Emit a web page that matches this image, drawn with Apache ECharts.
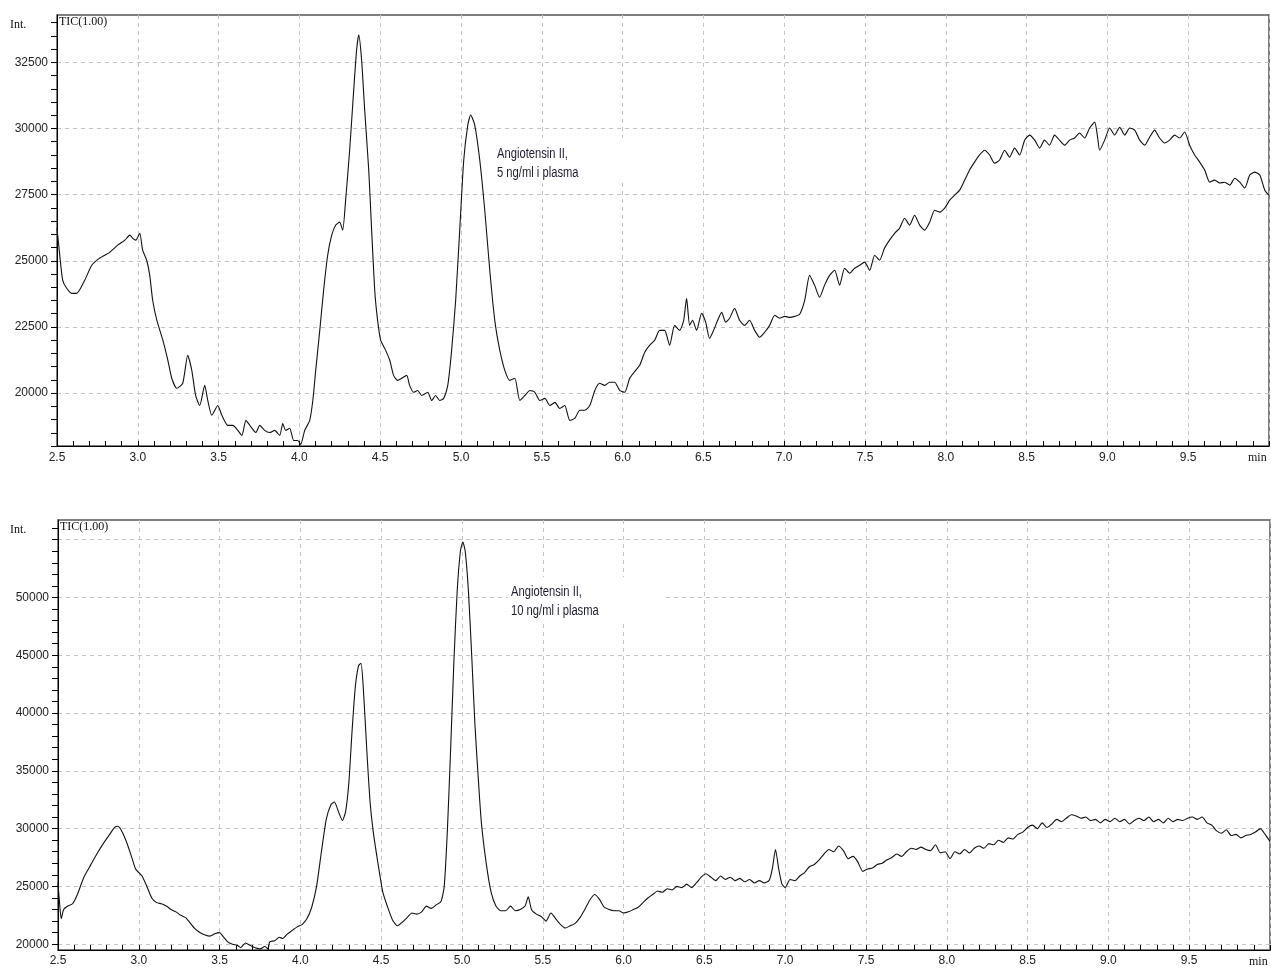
<!DOCTYPE html>
<html>
<head>
<meta charset="utf-8">
<title>TIC chromatograms – Angiotensin II in plasma</title>
<script src="https://cdn.jsdelivr.net/npm/echarts@6/dist/echarts.min.js"></script>
<style>
  html, body { margin: 0; padding: 0; background: #ffffff; }
  #chart { width: 1271px; height: 969px; }
</style>
</head>
<body>
<div id="chart"></div>
<script>
// Retention time axis (min)
const timeMin = 2.5;
const timeMax = 10.0;
const timeStep = 0.5;

// Upper trace: Angiotensin II, 5 ng/ml i plasma  [time (min), intensity]
const trace5ng = [
  [2.500,26230],[2.517,25210],[2.535,24270],[2.560,23960],[2.591,23770],[2.622,23770],[2.672,24270],[2.715,24830],
  [2.764,25100],[2.826,25320],[2.876,25590],[2.920,25780],[2.951,25970],[2.969,25850],[2.988,25780],[3.012,26040],
  [3.030,25400],[3.055,25020],[3.074,24450],[3.092,23510],[3.118,22750],[3.155,22000],[3.186,21240],[3.210,20560],
  [3.241,20180],[3.278,20370],[3.309,21430],[3.334,20860],[3.358,19910],[3.383,19530],[3.414,20290],[3.433,19720],
  [3.458,19160],[3.495,19530],[3.520,19160],[3.557,18780],[3.588,18780],[3.619,18590],[3.644,18400],[3.669,18970],
  [3.693,18780],[3.730,18510],[3.755,18780],[3.785,18590],[3.816,18510],[3.847,18590],[3.878,18400],[3.897,18850],
  [3.915,18590],[3.940,18670],[3.965,18210],[3.990,18210],[4.008,18060],[4.033,18590],[4.064,18970],[4.083,19720],
  [4.101,20860],[4.126,22370],[4.150,23890],[4.175,25210],[4.200,25970],[4.225,26350],[4.249,26460],[4.268,26160],
  [4.286,27290],[4.311,29180],[4.336,31450],[4.354,32970],[4.367,33540],[4.385,32590],[4.404,30700],[4.429,28430],
  [4.447,26160],[4.466,23890],[4.484,22750],[4.503,21990],[4.528,21690],[4.559,21240],[4.583,20670],[4.608,20480],
  [4.633,20560],[4.664,20670],[4.682,20290],[4.707,20030],[4.732,20100],[4.757,19910],[4.794,20030],[4.819,19720],
  [4.843,19910],[4.868,19720],[4.893,19800],[4.918,20290],[4.942,21620],[4.967,23510],[4.992,26160],[5.017,28810],
  [5.042,30130],[5.060,30510],[5.085,30130],[5.116,28810],[5.147,26910],[5.178,24640],[5.209,22750],[5.240,21620],
  [5.271,20860],[5.302,20480],[5.333,20560],[5.364,19720],[5.395,19910],[5.426,20100],[5.457,20030],[5.488,19720],
  [5.519,19800],[5.550,19530],[5.581,19650],[5.611,19420],[5.642,19530],[5.673,18970],[5.704,19040],[5.735,19350],
  [5.766,19350],[5.797,19530],[5.828,20100],[5.858,20370],[5.889,20290],[5.920,20410],[5.951,20410],[5.982,20100],
  [6.013,20030],[6.044,20560],[6.081,20860],[6.106,21050],[6.137,21540],[6.168,21810],[6.199,22000],[6.229,22370],
  [6.260,22370],[6.291,21810],[6.322,22560],[6.353,22370],[6.378,22750],[6.396,23580],[6.415,22560],[6.433,22750],
  [6.458,22370],[6.489,23020],[6.514,22680],[6.538,22070],[6.563,22370],[6.588,22750],[6.613,23050],[6.638,22680],
  [6.662,22830],[6.693,23200],[6.724,22750],[6.755,22560],[6.786,22750],[6.817,22370],[6.848,22110],[6.879,22300],
  [6.910,22560],[6.941,22940],[6.972,22830],[7.003,22900],[7.034,22860],[7.065,22900],[7.096,22980],[7.127,23510],
  [7.157,24450],[7.188,24080],[7.219,23620],[7.250,24080],[7.281,24450],[7.312,24640],[7.343,24080],[7.374,24720],
  [7.405,24530],[7.436,24720],[7.467,24830],[7.498,24950],[7.529,24640],[7.560,25210],[7.590,25020],[7.621,25480],
  [7.652,25780],[7.683,26040],[7.714,26230],[7.745,26610],[7.776,26350],[7.807,26720],[7.838,26350],[7.869,26160],
  [7.900,26460],[7.931,26910],[7.962,26840],[7.993,26990],[8.024,27290],[8.055,27480],[8.086,27670],[8.117,28050],
  [8.147,28430],[8.178,28730],[8.209,29000],[8.240,29180],[8.271,29000],[8.302,28690],[8.333,28810],[8.364,29180],
  [8.395,28920],[8.426,29260],[8.457,29000],[8.488,29560],[8.519,29750],[8.550,29560],[8.581,29260],[8.611,29560],
  [8.642,29370],[8.673,29750],[8.704,29560],[8.735,29370],[8.766,29560],[8.797,29640],[8.828,29830],[8.859,29640],
  [8.890,30020],[8.921,30240],[8.940,29640],[8.952,29180],[8.983,29560],[9.014,30020],[9.045,29750],[9.076,30050],
  [9.107,29750],[9.138,30020],[9.169,29940],[9.200,29560],[9.231,29370],[9.262,29680],[9.292,29940],[9.323,29640],
  [9.354,29450],[9.385,29560],[9.416,29750],[9.447,29640],[9.478,29870],[9.509,29370],[9.540,29000],[9.571,28730],
  [9.602,28430],[9.633,27970],[9.664,28050],[9.695,27940],[9.726,27970],[9.757,27860],[9.788,28120],[9.819,27970],
  [9.850,27750],[9.881,28240],[9.912,28350],[9.943,28240],[9.974,27670],[10.000,27480]
];

// Lower trace: Angiotensin II, 10 ng/ml i plasma  [time (min), intensity]
const trace10ng = [
  [2.500,25300],[2.510,23500],[2.520,22200],[2.535,23000],[2.560,23300],[2.590,23500],[2.620,24300],[2.660,25800],
  [2.700,26800],[2.740,27800],[2.780,28700],[2.820,29500],[2.850,30100],[2.870,30200],[2.890,29900],[2.920,29000],
  [2.950,27800],[2.980,26500],[3.000,26200],[3.020,25900],[3.050,25000],[3.080,24000],[3.110,23600],[3.140,23500],
  [3.170,23300],[3.200,23000],[3.230,22800],[3.260,22500],[3.290,22300],[3.320,21800],[3.350,21300],[3.380,21000],
  [3.410,20800],[3.440,20700],[3.470,20900],[3.500,21000],[3.520,20700],[3.550,20200],[3.580,20000],[3.610,19900],
  [3.630,19700],[3.660,20100],[3.690,19900],[3.720,19700],[3.750,19600],[3.780,19800],[3.800,19600],[3.810,20200],
  [3.840,20300],[3.870,20600],[3.890,20500],[3.920,20900],[3.950,21200],[3.980,21500],[4.010,21700],[4.040,22200],
  [4.070,23200],[4.100,25000],[4.130,28000],[4.160,30800],[4.190,32100],[4.210,32300],[4.240,31300],[4.260,30700],
  [4.280,31500],[4.300,34000],[4.320,38500],[4.340,42300],[4.360,44100],[4.375,44300],[4.390,42000],[4.410,37000],
  [4.430,32500],[4.450,29800],[4.480,27000],[4.510,24500],[4.540,23200],[4.570,22100],[4.600,21600],[4.630,21900],
  [4.660,22300],[4.690,22700],[4.720,22600],[4.750,22800],[4.780,23300],[4.810,23100],[4.840,23400],[4.870,23700],
  [4.890,25000],[4.910,30000],[4.930,37000],[4.950,44500],[4.970,50500],[4.990,54000],[5.005,54800],[5.020,54000],
  [5.040,50500],[5.060,45000],[5.080,39000],[5.100,34500],[5.120,30500],[5.150,27000],[5.180,24500],[5.210,23300],
  [5.240,22900],[5.270,22900],[5.300,23300],[5.330,22900],[5.360,23000],[5.390,23300],[5.410,24100],[5.430,23000],
  [5.460,22600],[5.490,22400],[5.520,22000],[5.550,22700],[5.580,22200],[5.610,21700],[5.640,21400],[5.670,21600],
  [5.700,21800],[5.730,22300],[5.760,23000],[5.790,23800],[5.820,24300],[5.850,23900],[5.880,23200],[5.910,23000],
  [5.940,22900],[5.970,22900],[6.000,22700],[6.030,22800],[6.060,23000],[6.090,23200],[6.120,23600],[6.150,24000],
  [6.180,24300],[6.210,24600],[6.240,24500],[6.270,24800],[6.300,24700],[6.330,25000],[6.360,24900],[6.390,25200],
  [6.420,24900],[6.450,25300],[6.480,25800],[6.510,26100],[6.540,25800],[6.570,25500],[6.600,25900],[6.630,25600],
  [6.660,25800],[6.690,25500],[6.720,25700],[6.750,25400],[6.780,25600],[6.810,25300],[6.840,25500],[6.870,25300],
  [6.900,25500],[6.920,26500],[6.940,28200],[6.960,26500],[6.980,25200],[7.000,24900],[7.030,25600],[7.060,25500],
  [7.090,25900],[7.120,26200],[7.150,26700],[7.180,26900],[7.210,27300],[7.240,27800],[7.270,28200],[7.300,28000],
  [7.330,28500],[7.360,28100],[7.390,27400],[7.420,27600],[7.450,27100],[7.480,26300],[7.510,26500],[7.540,26600],
  [7.570,26900],[7.600,27000],[7.630,27300],[7.660,27500],[7.690,27800],[7.720,27600],[7.750,28000],[7.780,28300],
  [7.810,28200],[7.840,28400],[7.870,28200],[7.900,28100],[7.930,28600],[7.960,27900],[7.990,28000],[8.020,27400],
  [8.050,28000],[8.080,27800],[8.110,28200],[8.140,27900],[8.170,28300],[8.200,28500],[8.230,28300],[8.260,28700],
  [8.290,28600],[8.320,29000],[8.350,28800],[8.380,29200],[8.410,29100],[8.440,29500],[8.470,29700],[8.500,30100],
  [8.530,30300],[8.560,30000],[8.590,30500],[8.620,30100],[8.650,30400],[8.680,30800],[8.710,30600],[8.740,30900],
  [8.770,31200],[8.800,31100],[8.830,30900],[8.860,31000],[8.890,30700],[8.920,30800],[8.950,30500],[8.980,30800],
  [9.010,30600],[9.040,30900],[9.070,30600],[9.100,30800],[9.130,30400],[9.160,30700],[9.190,30900],[9.220,30700],
  [9.250,31000],[9.280,30600],[9.310,30800],[9.340,30500],[9.370,30900],[9.400,30600],[9.430,30800],[9.460,30700],
  [9.490,30900],[9.520,31000],[9.550,30800],[9.580,31000],[9.610,30500],[9.640,30300],[9.670,29800],[9.700,29600],
  [9.730,29900],[9.760,29400],[9.790,29500],[9.820,29200],[9.850,29400],[9.880,29500],[9.910,29700],[9.940,30000],
  [9.970,29500],[10.000,28900]
];

// Intensity axis ranges, ticks, labels and grid lines
const upperRange = [18000, 34290];
const upperTicks = [18000,18500,19000,19500,20000,20500,21000,21500,22000,22500,23000,23500,24000,24500,
  25000,25500,26000,26500,27000,27500,28000,28500,29000,29500,30000,30500,31000,31500,32000,32500,33000,33500,34000];
const upperLabels = [20000,22500,25000,27500,30000,32500];
const upperGrid = [20000,22500,25000,27500,30000,32500];

const lowerRange = [19500, 56700];
const lowerTicks = [20000,21000,22000,23000,24000,25000,26000,27000,28000,29000,30000,31000,32000,33000,
  34000,35000,36000,37000,38000,39000,40000,41000,42000,43000,44000,45000,46000,47000,48000,49000,50000,
  51000,52000,53000,54000,55000,56000];
const lowerLabels = [20000,25000,30000,35000,40000,45000,50000];
const lowerGrid = [20000,25000,30000,35000,40000,45000,50000,55000];

const annotationUpper = ['Angiotensin II,', '5 ng/ml i plasma'];
const annotationLower = ['Angiotensin II,', '10 ng/ml i plasma'];

const sansFont = "'Liberation Sans', Arial, sans-serif";
const serifFont = "'Liberation Serif', 'Times New Roman', serif";
const gridDash = { type: [4, 4], color: '#c4c4c4', width: 1 };

function timeAxis(gridIndex, labelMargin) {
  return {
    type: 'value', gridIndex: gridIndex,
    min: timeMin, max: timeMax, interval: timeStep,
    axisLine: { show: true, onZero: false, lineStyle: { color: '#000', width: 1 } },
    axisTick: { show: true, inside: true, length: 5, lineStyle: { color: '#000', width: 1 } },
    minorTick: { show: true, splitNumber: 5, length: 5, lineStyle: { color: '#000', width: 1 } },
    axisLabel: {
      margin: labelMargin, fontFamily: sansFont, fontSize: 12, color: '#222',
      showMaxLabel: false,
      formatter: function (v) { return v >= timeMax ? '' : v.toFixed(1); }
    },
    splitLine: { show: true, lineStyle: gridDash }
  };
}

function intensityAxes(gridIndex, range, ticks, labels, lines) {
  return [
    {
      type: 'value', gridIndex: gridIndex, position: 'left',
      min: range[0], max: range[1],
      axisLine: { show: true, onZero: false, lineStyle: { color: '#000', width: 1 } },
      axisTick: { show: true, inside: false, length: 6, customValues: ticks, lineStyle: { color: '#000', width: 1 } },
      axisLabel: {
        margin: 9, fontFamily: sansFont, fontSize: 12, color: '#222', customValues: labels,
        formatter: function (v) { return String(Math.round(v)); }
      },
      splitLine: { show: false }
    },
    {
      type: 'value', gridIndex: gridIndex, position: 'left',
      min: range[0], max: range[1],
      axisLine: { show: false },
      axisTick: { show: false, customValues: lines },
      axisLabel: { show: false },
      splitLine: { show: true, lineStyle: gridDash }
    }
  ];
}

function textItem(left, top, text, font, size, color, lineHeight, scaleX) {
  return {
    type: 'text', x: left, y: top, z: 20, scaleX: scaleX || 1,
    style: {
      text: text, font: size + 'px ' + font, fill: color,
      lineHeight: lineHeight || size + 2, verticalAlign: 'top', align: 'left'
    }
  };
}

const chart = echarts.init(document.getElementById('chart'), null, { renderer: 'canvas' });

const upperY = intensityAxes(0, upperRange, upperTicks, upperLabels, upperGrid);
const lowerY = intensityAxes(1, lowerRange, lowerTicks, lowerLabels, lowerGrid);

chart.setOption({
  animation: false,
  backgroundColor: '#ffffff',
  grid: [
    { left: 57, top: 15, width: 1212, height: 431, show: true, borderColor: '#555', borderWidth: 1.5, backgroundColor: 'transparent' },
    { left: 58, top: 520, width: 1212, height: 430, show: true, borderColor: '#555', borderWidth: 1.5, backgroundColor: 'transparent' }
  ],
  xAxis: [timeAxis(0, 6), timeAxis(1, 5)],
  yAxis: [upperY[0], upperY[1], lowerY[0], lowerY[1]],
  series: [
    {
      type: 'line', xAxisIndex: 0, yAxisIndex: 0, data: trace5ng,
      showSymbol: false, smooth: 0.2, clip: true, z: 10,
      lineStyle: { color: '#111', width: 1.1 }
    },
    {
      type: 'line', xAxisIndex: 1, yAxisIndex: 2, data: trace10ng,
      showSymbol: false, smooth: 0.2, clip: true, z: 10,
      lineStyle: { color: '#111', width: 1.1 }
    }
  ],
  graphic: [
    // annotation backgrounds
    { type: 'rect', x: 494, y: 138, z: 15, shape: { width: 135, height: 44 }, style: { fill: '#ffffff' } },
    { type: 'rect', x: 508, y: 577, z: 15, shape: { width: 154, height: 46 }, style: { fill: '#ffffff' } },
    // annotation text, horizontally condensed
    textItem(497, 145, annotationUpper.join('\n'), sansFont, 14, '#1c1c30', 19, 0.8),
    textItem(511, 583, annotationLower.join('\n'), sansFont, 14, '#1c1c30', 19, 0.8),
    // axis captions
    textItem(10, 18, 'Int.', serifFont, 12, '#111'),
    textItem(59, 15, 'TIC(1.00)', serifFont, 12, '#111'),
    textItem(1248, 451, 'min', serifFont, 12, '#111'),
    textItem(10, 523, 'Int.', serifFont, 12, '#111'),
    textItem(60, 520, 'TIC(1.00)', serifFont, 12, '#111'),
    textItem(1249, 955, 'min', serifFont, 12, '#111')
  ]
});
</script>
</body>
</html>
